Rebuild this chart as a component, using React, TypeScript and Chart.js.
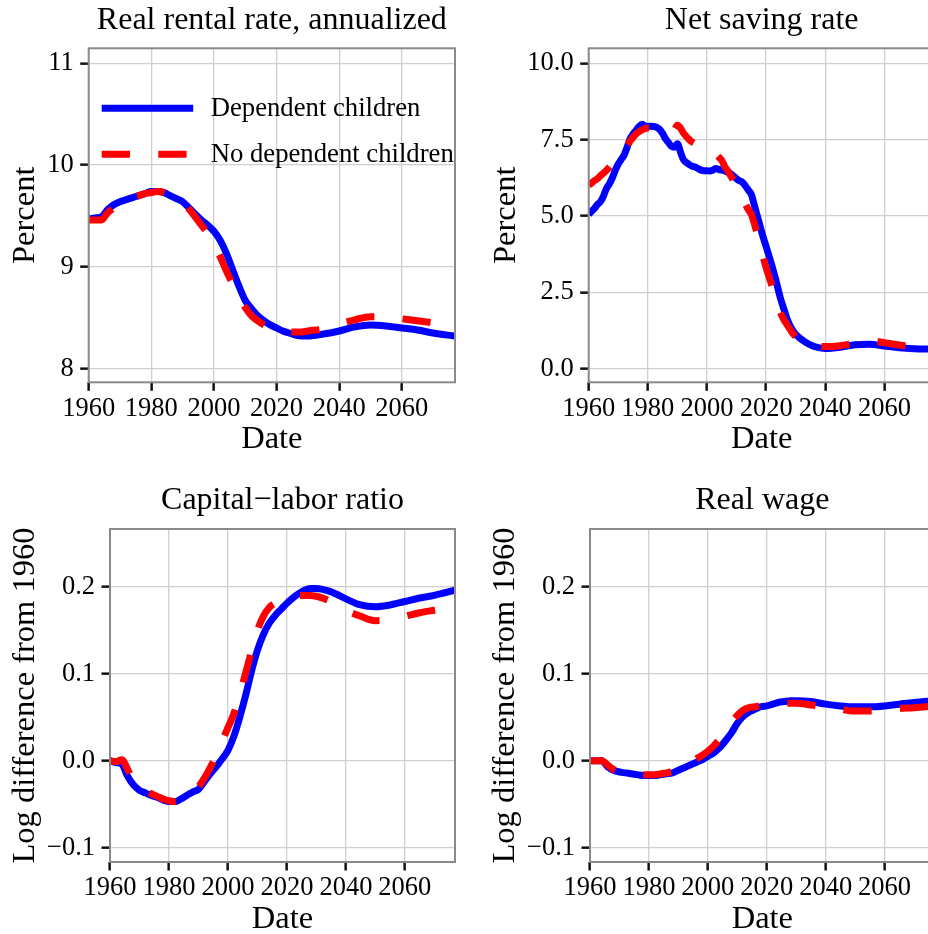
import React, { useEffect, useRef } from "react";
import { Chart, registerables } from "chart.js";

Chart.register(...registerables);

// ---------------- data ----------------
const YEARS = [
  1960, 1962, 1964, 1966, 1968, 1970, 1972, 1974, 1976, 1978, 1980, 1982, 1984, 1986, 1988,
  1990, 1992, 1994, 1996, 1998, 2000, 2002, 2004, 2006, 2008, 2010, 2012, 2014, 2016, 2018,
  2020, 2022, 2024, 2026, 2028, 2030, 2035, 2040, 2045, 2050, 2055, 2060, 2065, 2070, 2077,
];

const RENTAL_DEP = [
  9.47, 9.48, 9.49, 9.56, 9.61, 9.64, 9.66, 9.68, 9.70, 9.72, 9.74, 9.74, 9.73, 9.70, 9.67,
  9.64, 9.58, 9.52, 9.46, 9.41, 9.35, 9.26, 9.13, 8.97, 8.81, 8.67, 8.59, 8.52, 8.47, 8.43,
  8.40, 8.37, 8.35, 8.33, 8.32, 8.32, 8.34, 8.37, 8.41, 8.43, 8.42, 8.40, 8.38, 8.35, 8.32,
];
const RENTAL_NODEP = [
  9.46, 9.46, 9.46, 9.53, 9.58, 9.63, 9.65, 9.68, 9.70, 9.72, 9.73, 9.74, 9.73, 9.70, 9.67,
  9.64, 9.57, 9.49, 9.41, 9.33, 9.23, 9.10, 8.96, 8.83, 8.70, 8.60, 8.52, 8.47, 8.43, 8.40,
  8.38, 8.37, 8.36, 8.36, 8.36, 8.37, 8.39, 8.44, 8.48, 8.51, 8.51, 8.49, 8.47, 8.45, 8.43,
];

const SAVING_YEARS = [
  1960, 1961, 1962, 1963, 1964, 1965, 1966, 1967, 1968, 1969,
  1970, 1971, 1972, 1973, 1974, 1975, 1976, 1977, 1978, 1979,
  1980, 1981, 1982, 1983, 1984, 1985, 1986, 1987, 1988, 1989,
  1990, 1991, 1992, 1993, 1994, 1995, 1996, 1997, 1998, 1999,
  2000, 2001, 2002, 2003, 2004, 2005, 2006, 2007, 2008, 2009,
  2010, 2011, 2012, 2013, 2014, 2015, 2016, 2017, 2018, 2019,
  2020, 2021, 2022, 2023, 2024, 2025, 2026, 2027, 2028, 2029,
  2030, 2033, 2036, 2040, 2045, 2050, 2055, 2060, 2065, 2070, 2077,
];
const SAVING_DEP = [
  5.05, 5.15, 5.25, 5.38, 5.47, 5.65, 5.90, 6.05, 6.25, 6.50,
  6.70, 6.85, 7.00, 7.25, 7.53, 7.68, 7.80, 7.92, 8.00, 7.95,
  7.93, 7.94, 7.93, 7.90, 7.83, 7.70, 7.52, 7.40, 7.28, 7.25,
  7.36, 7.10, 6.85, 6.75, 6.68, 6.63, 6.60, 6.55, 6.50, 6.48,
  6.48, 6.47, 6.50, 6.55, 6.52, 6.50, 6.47, 6.43, 6.38, 6.30,
  6.22, 6.15, 6.10, 5.98, 5.84, 5.70, 5.35, 5.00, 4.65, 4.30,
  4.00, 3.68, 3.35, 3.00, 2.62, 2.25, 1.95, 1.65, 1.42, 1.25,
  1.12, 0.88, 0.73, 0.66, 0.70, 0.78, 0.80, 0.74, 0.68, 0.65, 0.64,
];
const SAVING_NODEP = [
  6.00, 6.08, 6.16, 6.22, 6.32, 6.40, 6.49, 6.60, 6.72, 6.86,
  7.00, 7.10, 7.20, 7.32, 7.45, 7.57, 7.68, 7.76, 7.82, 7.86,
  7.88, 7.88, 7.86, 7.84, 7.81, 7.78, 7.75, 7.73, 7.75, 7.83,
  7.97, 7.88, 7.72, 7.60, 7.50, 7.42, 7.36, 7.32, 7.29, 7.26,
  7.23, 7.19, 7.14, 7.02, 6.92, 6.82, 6.62, 6.48, 6.32, 6.15,
  5.95, 5.75, 5.55, 5.38, 5.20, 5.05, 4.75, 4.40, 4.00, 3.65,
  3.30, 3.00, 2.70, 2.40, 2.05, 1.80, 1.60, 1.45, 1.30, 1.15,
  1.05, 0.85, 0.76, 0.72, 0.75, 0.83, 0.91, 0.85, 0.77, 0.72, 0.70,
];

const CAPITAL_DEP = [
  0.000, -0.002, -0.004, -0.018, -0.028, -0.034, -0.037, -0.040, -0.042, -0.045, -0.047, -0.047, -0.044, -0.040, -0.036,
  -0.033, -0.024, -0.015, -0.007, 0.002, 0.012, 0.028, 0.050, 0.075, 0.103, 0.127, 0.145, 0.158, 0.167, 0.174,
  0.181, 0.187, 0.192, 0.196, 0.198, 0.198, 0.194, 0.186, 0.179, 0.177, 0.179, 0.183, 0.187, 0.190, 0.196,
];
const CAPITAL_NODEP = [
  0.000, -0.001, 0.001, -0.010, -0.024, -0.031, -0.035, -0.038, -0.041, -0.044, -0.046, -0.047, -0.045, -0.041, -0.037,
  -0.030, -0.020, -0.008, 0.006, 0.022, 0.038, 0.054, 0.076, 0.101, 0.126, 0.150, 0.166, 0.176, 0.181, 0.184,
  0.186, 0.188, 0.190, 0.190, 0.190, 0.189, 0.183, 0.173, 0.166, 0.161, 0.162, 0.166, 0.170, 0.173, 0.177,
];

const WAGE_DEP = [
  0.000, 0.000, 0.000, -0.007, -0.011, -0.013, -0.014, -0.015, -0.016, -0.017, -0.017, -0.017, -0.016, -0.015, -0.014,
  -0.011, -0.008, -0.005, -0.002, 0.001, 0.005, 0.009, 0.015, 0.023, 0.032, 0.043, 0.051, 0.056, 0.059, 0.062,
  0.063, 0.065, 0.067, 0.068, 0.069, 0.069, 0.068, 0.065, 0.063, 0.062, 0.062, 0.063, 0.065, 0.067, 0.069,
];
const WAGE_NODEP = [
  0.000, 0.000, 0.000, -0.005, -0.010, -0.012, -0.013, -0.014, -0.015, -0.016, -0.016, -0.016, -0.015, -0.014, -0.012,
  -0.009, -0.006, -0.002, 0.002, 0.006, 0.011, 0.017, 0.025, 0.034, 0.044, 0.052, 0.058, 0.061, 0.062, 0.063,
  0.064, 0.065, 0.066, 0.066, 0.066, 0.066, 0.064, 0.062, 0.059, 0.057, 0.057, 0.058, 0.060, 0.061, 0.063,
];

const SERIES_NAMES = ["Dependent children", "No dependent children"];
const X_MIN = 1960;
const X_MAX = 2077;
const X_STEP = 20;

// ---------------- styling / layout ----------------
const FONT = '"Liberation Serif", "Times New Roman", Times, serif';
const BLUE = "#0000ff";
const RED = "#ff0000";
const LINE_W = 7;
const DASH = [28.3, 28.3];
const TICK_SIZE = 26.5;
const TITLE_SIZE = 32;
const AXIS_TITLE_SIZE = 32.5;
const LEGEND_SIZE = 26.7;

type PanelCfg = {
  left: number; top: number; width: number; height: number;
  plotL: number; plotT: number; plotR: number; plotB: number;
  title: string; ylabel: string; ylabelX: number; titleY: number; dateY: number;
  yMin: number; yMax: number; yStep: number; decimals: number;
  years: number[]; dep: number[]; nodep: number[]; legend?: boolean;
};

const PANELS: PanelCfg[] = [
  {
    left: 0, top: 0, width: 464, height: 464,
    plotL: 88.7, plotT: 48.3, plotR: 455, plotB: 382.3,
    title: "Real rental rate, annualized", ylabel: "Percent", ylabelX: 33.5, titleY: 29, dateY: 448.3,
    yMin: 7.866, yMax: 11.147, yStep: 1, decimals: 0,
    years: YEARS, dep: RENTAL_DEP, nodep: RENTAL_NODEP, legend: true,
  },
  {
    left: 464, top: 0, width: 480, height: 464,
    plotL: 124.7, plotT: 48.3, plotR: 470.7, plotB: 382.3,
    title: "Net saving rate", ylabel: "Percent", ylabelX: 51, titleY: 29, dateY: 448.3,
    yMin: -0.45, yMax: 10.49, yStep: 2.5, decimals: 1,
    years: SAVING_YEARS, dep: SAVING_DEP, nodep: SAVING_NODEP,
  },
  {
    left: 0, top: 464, width: 464, height: 470,
    plotL: 110, plotT: 65, plotR: 455, plotB: 398,
    title: "Capital\u2212labor ratio", ylabel: "Log difference from 1960", ylabelX: 34, titleY: 45, dateY: 464.3,
    yMin: -0.1164, yMax: 0.2663, yStep: 0.1, decimals: 1,
    years: YEARS, dep: CAPITAL_DEP, nodep: CAPITAL_NODEP,
  },
  {
    left: 464, top: 464, width: 480, height: 470,
    plotL: 126, plotT: 65, plotR: 470.7, plotB: 398,
    title: "Real wage", ylabel: "Log difference from 1960", ylabelX: 50, titleY: 45, dateY: 464.3,
    yMin: -0.1164, yMax: 0.2663, yStep: 0.1, decimals: 1,
    years: YEARS, dep: WAGE_DEP, nodep: WAGE_NODEP,
  },
];

function fmt(v: number, d: number): string {
  const s = Math.abs(v) < 1e-9 ? (0).toFixed(d) : v.toFixed(d);
  return s.replace("-", "\u2212");
}

function Panel({ cfg }: { cfg: PanelCfg }) {
  const ref = useRef<HTMLCanvasElement>(null);
  useEffect(() => {
    const canvas = ref.current;
    if (!canvas) return;
    const decor = {
      id: "decor",
      afterDraw(chart: any) {
        const { ctx, chartArea: a } = chart;
        ctx.save();
        ctx.strokeStyle = "#8a8a8a";
        ctx.lineWidth = 2;
        ctx.strokeRect(a.left, a.top, a.right - a.left, a.bottom - a.top);
        ctx.fillStyle = "#000";
        ctx.textAlign = "center";
        ctx.textBaseline = "alphabetic";
        const cx = (a.left + a.right) / 2;
        ctx.font = `${TITLE_SIZE}px ${FONT}`;
        ctx.fillText(cfg.title, cx, cfg.titleY);
        ctx.font = `${AXIS_TITLE_SIZE}px ${FONT}`;
        ctx.fillText("Date", cx, cfg.dateY);
        ctx.save();
        ctx.translate(cfg.ylabelX, (a.top + a.bottom) / 2);
        ctx.rotate(-Math.PI / 2);
        ctx.fillText(cfg.ylabel, 0, 0);
        ctx.restore();
        if (cfg.legend) {
          const x0 = a.left + 13;
          const x1 = a.left + 104.5;
          const tx = a.left + 122;
          const rows = [
            { y: a.top + 60, color: BLUE, dash: [] as number[], label: SERIES_NAMES[0] },
            { y: a.top + 106, color: RED, dash: DASH, label: SERIES_NAMES[1] },
          ];
          ctx.font = `${LEGEND_SIZE}px ${FONT}`;
          ctx.textAlign = "left";
          ctx.textBaseline = "middle";
          for (const r of rows) {
            ctx.beginPath();
            ctx.setLineDash(r.dash);
            ctx.lineCap = "butt";
            ctx.strokeStyle = r.color;
            ctx.lineWidth = LINE_W;
            ctx.moveTo(x0, r.y);
            ctx.lineTo(x1, r.y);
            ctx.stroke();
            ctx.setLineDash([]);
            ctx.fillStyle = "#000";
            ctx.fillText(r.label, tx, r.y + 1);
          }
        }
        ctx.restore();
      },
    };

    const gridOpts = {
      color: "#cfcfcf",
      lineWidth: 1.3,
      drawTicks: true,
      tickLength: 8.5,
      tickColor: "#111",
      tickWidth: 2.5,
    };

    const chart = new Chart(canvas, {
      type: "line",
      data: {
        datasets: [
          {
            label: SERIES_NAMES[1],
            data: cfg.years.map((x, i) => ({ x, y: cfg.nodep[i] })),
            borderColor: RED,
            borderWidth: LINE_W,
            borderDash: DASH,
            borderCapStyle: "butt",
            borderJoinStyle: "round",
            pointRadius: 0,
            cubicInterpolationMode: "monotone",
            fill: false,
            clip: 0,
          },
          {
            label: SERIES_NAMES[0],
            data: cfg.years.map((x, i) => ({ x, y: cfg.dep[i] })),
            borderColor: BLUE,
            borderWidth: LINE_W,
            borderCapStyle: "butt",
            borderJoinStyle: "round",
            pointRadius: 0,
            cubicInterpolationMode: "monotone",
            fill: false,
            clip: 0,
          },
        ] as any,
      },
      options: {
        animation: false,
        responsive: false,
        devicePixelRatio: 1,
        events: [],
        layout: {
          padding: { top: cfg.plotT, right: cfg.width - cfg.plotR, bottom: 0, left: 0 },
        },
        plugins: {
          legend: { display: false },
          tooltip: { enabled: false },
          title: { display: false },
        },
        scales: {
          x: {
            type: "linear",
            min: X_MIN,
            max: X_MAX,
            afterFit: (s: any) => {
              s.height = cfg.height - cfg.plotB;
            },
            ticks: {
              stepSize: X_STEP,
              includeBounds: false,
              autoSkip: false,
              maxRotation: 0,
              color: "#000",
              padding: 2,
              font: { family: FONT, size: TICK_SIZE },
              callback: (v: any) => String(v),
            },
            grid: gridOpts,
            border: { display: false },
          },
          y: {
            type: "linear",
            min: cfg.yMin,
            max: cfg.yMax,
            afterFit: (s: any) => {
              s.width = cfg.plotL;
            },
            ticks: {
              stepSize: cfg.yStep,
              includeBounds: false,
              autoSkip: false,
              color: "#000",
              padding: 6.5,
              font: { family: FONT, size: TICK_SIZE },
              callback: (v: any) => fmt(Number(v), cfg.decimals),
            },
            grid: gridOpts,
            border: { display: false },
          },
        },
      } as any,
      plugins: [decor],
    });
    return () => chart.destroy();
  }, [cfg]);

  return (
    <canvas
      ref={ref}
      width={cfg.width}
      height={cfg.height}
      style={{
        position: "absolute",
        left: cfg.left,
        top: cfg.top,
        width: cfg.width,
        height: cfg.height,
        display: "block",
      }}
    />
  );
}

export default function App() {
  return (
    <div
      style={{
        position: "fixed",
        left: 0,
        top: 0,
        width: 928,
        height: 934,
        overflow: "hidden",
        background: "#fff",
      }}
    >
      {PANELS.map((p, i) => (
        <Panel key={i} cfg={p} />
      ))}
    </div>
  );
}
